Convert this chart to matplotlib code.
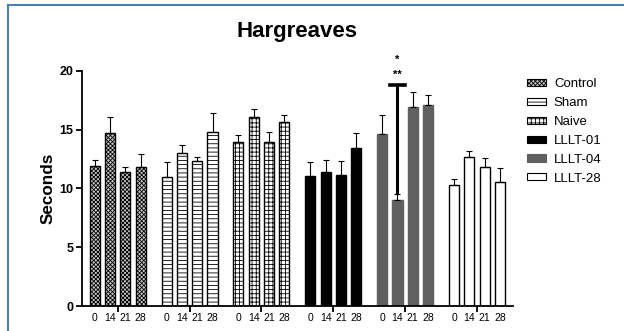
import matplotlib
matplotlib.use('Agg')
import matplotlib.pyplot as plt
from matplotlib.patches import Patch
from matplotlib.lines import Line2D
import numpy as np

plt.rcParams['font.family'] = ['Liberation Sans', 'DejaVu Sans']
plt.rcParams['hatch.linewidth'] = 0.6

groups = ['Control', 'Sham', 'Naive', 'LLLT-01', 'LLLT-04', 'LLLT-28']
days = ['0', '14', '21', '28']

means = [
    [11.9, 14.7, 11.4, 11.85],
    [11.0, 13.0, 12.35, 14.75],
    [13.9, 16.05, 13.95, 15.6],
    [11.05, 11.4, 11.15, 13.45],
    [14.6, 9.0, 16.9, 17.1],
    [10.25, 12.7, 11.8, 10.5],
]
errs = [
    [0.55, 1.35, 0.45, 1.05],
    [1.2, 0.7, 0.35, 1.65],
    [0.6, 0.7, 0.8, 0.6],
    [1.15, 1.0, 1.2, 1.25],
    [1.6, 0.55, 1.3, 0.85],
    [0.55, 0.45, 0.8, 1.2],
]

faces = ['#c8c8c8', 'white', 'white', 'black', '#606060', 'white']
edges = ['black', 'black', 'black', 'black', '#606060', 'black']
hatches = ['xxxxxxxx', '----', '++++', None, None, None]

fig = plt.figure(figsize=(6.24, 3.31), dpi=100)
ax = fig.add_axes([0.131, 0.0755, 0.691, 0.711])

offsets = np.array([-1.5, -0.5, 0.5, 1.5]) * 0.213
width = 0.14
minor_pos = []
minor_lab = []
for g in range(len(groups)):
    xs = g + offsets
    ax.bar(xs, means[g], width, color=faces[g], edgecolor=edges[g],
           hatch=hatches[g], linewidth=1.0, label=groups[g], zorder=2)
    ax.errorbar(xs, means[g], yerr=[np.zeros(4), errs[g]], fmt='none',
                ecolor='black', elinewidth=0.8, capsize=2.2, capthick=0.8,
                clip_on=False, zorder=3)
    minor_pos.extend(xs)
    minor_lab.extend(days)

# significance marker over LLLT-04 day 14
sx = 4 + offsets[1]
ax.plot([sx, sx], [9.6, 18.8], color='black', lw=2.2, clip_on=False, zorder=4)
ax.plot([sx - 0.11, sx + 0.11], [18.8, 18.8], color='black', lw=2.6,
        clip_on=False, zorder=4)
ax.text(sx, 19.2, '**', ha='center', va='bottom', fontsize=8, fontweight='bold')
ax.text(sx, 20.5, '*', ha='center', va='bottom', fontsize=8, fontweight='bold')

ax.set_xlim(-0.5, 5.5)
ax.set_ylim(0, 20)
ax.set_yticks([0, 5, 10, 15, 20])
ax.set_xticks(range(6))
ax.set_xticklabels([])
ax.set_xticks(minor_pos, minor=True)
ax.set_xticklabels(minor_lab, minor=True, fontsize=7.5)
ax.tick_params(axis='x', which='minor', length=0, pad=5)
ax.tick_params(axis='x', which='major', length=4, width=1.3, direction='out')
ax.tick_params(axis='y', length=4, width=1.3, direction='out', pad=2)
for lab in ax.get_yticklabels():
    lab.set_fontweight('bold')
    lab.set_fontsize(9)
for s in ['top', 'right']:
    ax.spines[s].set_visible(False)
for s in ['left', 'bottom']:
    ax.spines[s].set_linewidth(1.3)

ax.set_ylabel('Seconds', fontsize=12.3, fontweight='bold', labelpad=3)
fig.text(0.476, 1 - 31.7 / 331, 'Hargreaves', ha='center', va='center',
         fontsize=16, fontweight='bold')

handles = [Patch(facecolor=faces[i], edgecolor=edges[i], hatch=hatches[i],
                 linewidth=0.8) for i in range(len(groups))]
ax.legend(handles, groups, loc='upper left', bbox_to_anchor=(1.02, 0.99),
          frameon=False, fontsize=9.5, handlelength=1.45, handleheight=0.45,
          labelspacing=0.52, handletextpad=0.6, borderaxespad=0)

# outer frame lines
fig.add_artist(Line2D([8 / 624, 8 / 624], [0, 1 - 5 / 331], color='#4f7ea8',
                      lw=1.5, transform=fig.transFigure))
fig.add_artist(Line2D([8 / 624, 1], [1 - 5 / 331, 1 - 5 / 331], color='#4f7ea8',
                      lw=1.5, transform=fig.transFigure))

fig.savefig('out.png', dpi=100)
